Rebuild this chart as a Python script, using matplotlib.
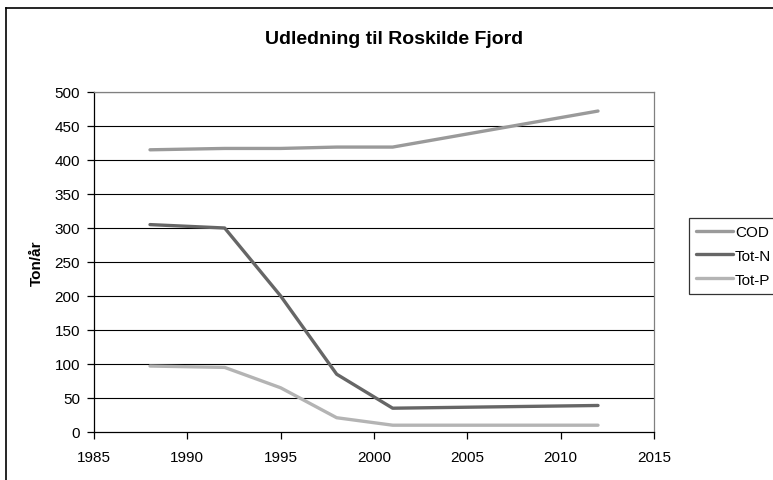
import matplotlib.pyplot as plt
from matplotlib.lines import Line2D

plt.rcParams['font.family'] = ['Liberation Sans', 'DejaVu Sans']

# discharge to Roskilde Fjord, ton per year
years = [1988, 1992, 1995, 1998, 2001, 2012]
cod = [415, 417, 417, 419, 419, 472]
tot_n = [305, 300, 200, 85, 35, 39]
tot_p = [97, 95, 65, 21, 10, 10]

series_names = ['COD', 'Tot-N', 'Tot-P']
series_colors = ['#9a9a9a', '#666666', '#b4b4b4']

W, H = 773, 481
fig = plt.figure(figsize=(W / 100, H / 100), dpi=100)

ax = fig.add_axes([94 / W, 1 - 433 / H, (654 - 94) / W, (433 - 93) / H])

for vals, name, col in zip([cod, tot_n, tot_p], series_names, series_colors):
    ax.plot(years, vals, color=col, lw=2.4, label=name, solid_capstyle='round', zorder=3)

ax.set_xlim(1985, 2015)
ax.set_ylim(0, 500)
ax.set_xticks(range(1985, 2016, 5))
ax.set_yticks(range(0, 501, 50))
for y in range(50, 501, 50):
    ax.axhline(y, color='black', lw=0.8, zorder=1)

ax.spines['top'].set_color('#808080')
ax.spines['right'].set_color('#808080')
ax.spines['left'].set_color('black')
ax.spines['bottom'].set_color('black')
for s in ax.spines.values():
    s.set_linewidth(0.9)
ax.tick_params(axis='both', direction='out', length=5, width=0.9, labelsize=11, colors='black')
ax.tick_params(axis='x', pad=8)
ax.tick_params(axis='y', pad=5)

ax.set_ylabel('Ton/år', fontsize=11, fontweight='bold', labelpad=8)

fig.text(394 / W, 1 - 39 / H, 'Udledning til Roskilde Fjord', ha='center', va='center',
         fontsize=14, fontweight='bold')

leg = fig.legend(loc='upper left', bbox_to_anchor=(689 / W, 1 - 219 / H), borderaxespad=0,
                 fontsize=11, frameon=True, fancybox=False, edgecolor='black',
                 handlelength=2.45, handletextpad=0.1, labelspacing=0.65, borderpad=0.45)
leg.get_frame().set_linewidth(0.9)

# outer chart frame (top and left edges)
fig.add_artist(Line2D([6 / W, 6 / W], [0, 1 - 9 / H], transform=fig.transFigure, color='black', lw=1.2))
fig.add_artist(Line2D([6 / W, 1], [1 - 9 / H, 1 - 9 / H], transform=fig.transFigure, color='black', lw=1.2))

fig.savefig('out.png', dpi=100)
